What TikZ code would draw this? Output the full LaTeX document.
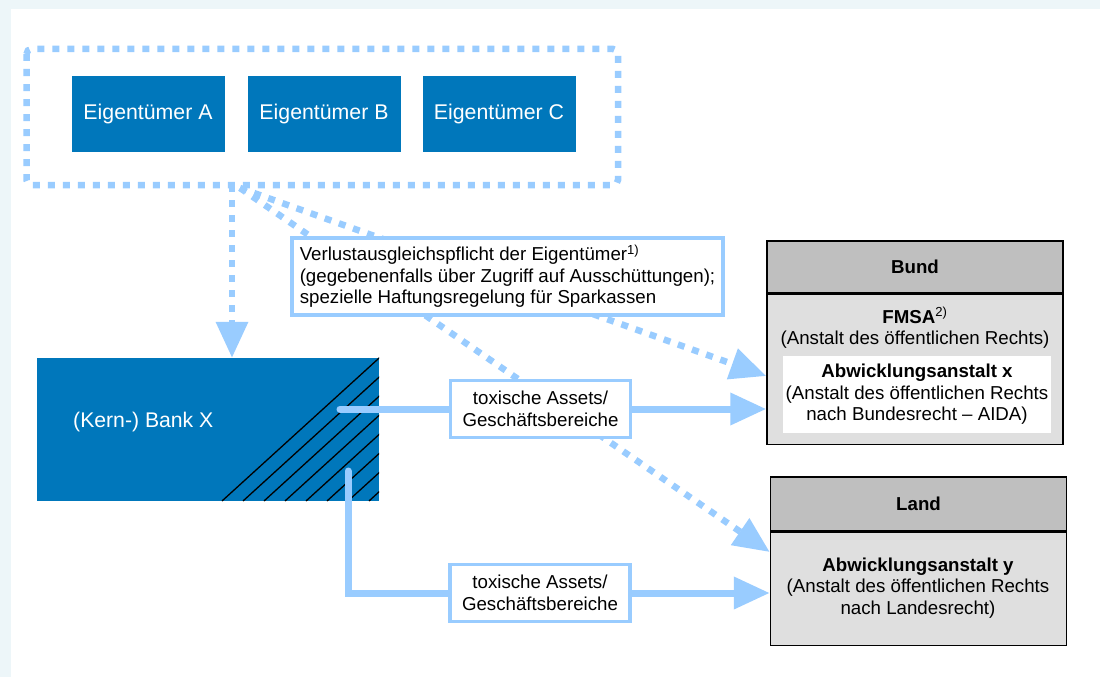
\documentclass[tikz,border=0pt]{standalone}
\usepackage{fontspec}
\setmainfont{Liberation Sans}
\usetikzlibrary{arrows.meta}
\definecolor{frameblue}{RGB}{237,246,249}
\definecolor{ownerblue}{RGB}{0,119,187}
\definecolor{flowblue}{RGB}{153,204,255}
\definecolor{headgray}{RGB}{191,191,191}
\definecolor{bodygray}{RGB}{223,223,223}
\tikzset{
  owner/.style={fill=ownerblue, text=white, minimum width=153pt, minimum height=76pt, inner sep=0pt, font=\fontsize{21.3}{24}\selectfont},
  note/.style={draw=flowblue, line width=3.5pt, fill=white, inner sep=0pt, align=center, font=\fontsize{18.7}{21.5}\selectfont},
  plain/.style={inner sep=0pt, align=center, font=\fontsize{18.7}{21.5}\selectfont},
  headbox/.style={draw, line width=1.5pt, fill=headgray, minimum width=296pt, inner sep=0pt, font=\fontsize{18.7}{21.5}\selectfont\bfseries},
  bodybox/.style={draw, line width=1.5pt, fill=bodygray, minimum width=296pt, inner sep=0pt},
  dotline/.style={flowblue, line width=6.5pt, dash pattern=on 7pt off 8pt},
  flowline/.style={flowblue, line width=7pt, line cap=round},
  bigtip/.style={-{Triangle[length=36pt,width=31pt]}}
}
\begin{document}
\begin{tikzpicture}[x=1pt,y=-1pt]
\useasboundingbox (0,0) rectangle (1100,677);
\fill [frameblue] (0,0) rectangle (1100,677);
\fill [white] (11,9) rectangle (1100,677);

\draw [dotline, rounded corners=5pt] (26.5,49) rectangle (618,185);
\node [owner] (ownerA) at (148,114) {Eigentümer A};
\node [owner] (ownerB) at (324,114) {Eigentümer B};
\node [owner] (ownerC) at (499,114) {Eigentümer C};
\coordinate (owners) at (232,185);
\coordinate (split) at (240,188);

\node [fill=ownerblue, minimum width=342pt, minimum height=143pt, inner sep=0pt] (bank) at (208,429.5) {};
\node [text=white, anchor=west, inner sep=0pt, font=\fontsize{21.2}{24}\selectfont] (banklabel) at (73,422) {(Kern-) Bank X};
\begin{scope}
\clip (bank.south west) rectangle (bank.north east);
\foreach \i in {0,...,7}
  \draw [line width=1.3pt] (222+21*\i,501) -- ++(200,-182);
\end{scope}

\node [headbox, minimum height=52pt] (bundhead) at (915,267) {Bund};
\node [bodybox, minimum height=150pt, anchor=north] (bund) at (bundhead.south) {};
\node [plain] (fmsa) at (915,328) {\textbf{FMSA}\textsuperscript{2)}\\(Anstalt des öffentlichen Rechts)};
\node [plain, fill=white, minimum width=268pt, minimum height=77pt] (aida) at (917,394.5) {\textbf{Abwicklungsanstalt x}\\(Anstalt des öffentlichen Rechts\\nach Bundesrecht – AIDA)};

\node [headbox, minimum height=54pt] (landhead) at (918.5,504) {Land};
\node [bodybox, minimum height=113pt, anchor=north] (land) at (landhead.south) {};
\node [plain] (landtext) at (918,588) {\textbf{Abwicklungsanstalt y}\\(Anstalt des öffentlichen Rechts\\nach Landesrecht)};

\draw [dotline, bigtip] (owners) -- (owners |- bank.north);
\draw [dotline, bigtip] (split) -- (bund.west |- 0,376);
\draw [dotline, bigtip] (split) -- (land.west |- 0,552);

\coordinate (cut) at (340,409);
\coordinate (fork) at (348,471);
\draw [flowline, bigtip] (cut) -- (cut -| bund.west);
\draw [flowline, bigtip] (fork) |- (land.west |- 0,593);

\node [note, align=left, minimum width=431pt, minimum height=77pt] (duty) at (507.5,276.5) {Verlustausgleichspflicht der Eigentümer\textsuperscript{1)}\\(gegebenenfalls über Zugriff auf Ausschüttungen);\\spezielle Haftungsregelung für Sparkassen};
\node [note, minimum width=180pt, minimum height=57pt] (toxA) at (540.5,409) {toxische Assets/\\Geschäftsbereiche};
\node [note, minimum width=180pt, minimum height=57pt] (toxB) at (540,593) {toxische Assets/\\Geschäftsbereiche};
\end{tikzpicture}
\end{document}
